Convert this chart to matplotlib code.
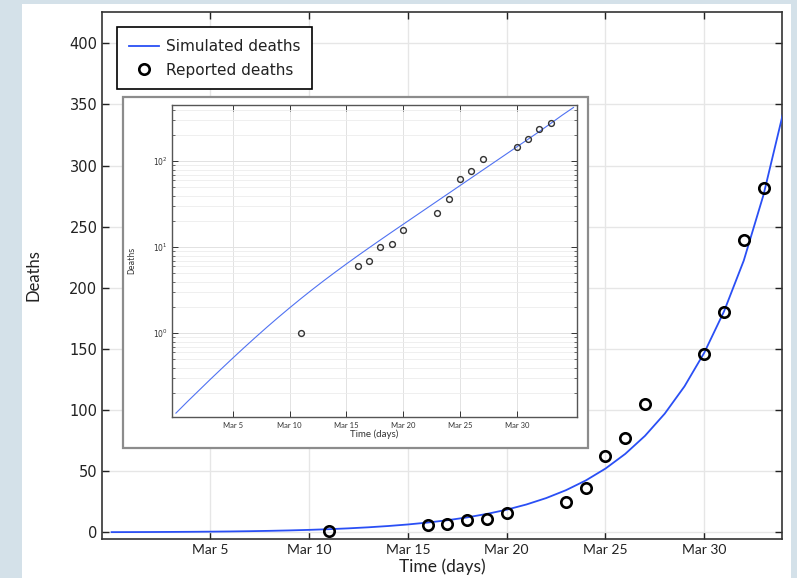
import numpy as np
import matplotlib
matplotlib.use('Agg')
import matplotlib.pyplot as plt
from matplotlib.patches import Rectangle
from matplotlib.ticker import LogLocator, NullFormatter

# ---------------- data (day index: Mar 1 = 0) ----------------
sim_days = list(range(-1, 35))
sim_deaths = [0.118, 0.160, 0.215, 0.289, 0.386, 0.514, 0.681, 0.897, 1.175, 1.528,
              1.972, 2.529, 3.221, 4.074, 5.117, 6.397, 7.962, 9.863, 12.19, 15.03,
              18.49, 22.75, 27.99, 34.43, 42.36, 52.12, 64.12, 78.89, 97.06, 119.4,
              146.9, 180.7, 222.3, 276.1, 343.6, 422.7]

obs_days = [10, 15, 16, 17, 18, 19, 22, 23, 24, 25, 26, 29, 30, 31, 32]
obs_deaths = [1, 6, 7, 10, 11, 16, 25, 36, 62, 77, 105, 146, 180, 239, 282]

tick_days = [4, 9, 14, 19, 24, 29]
tick_labels = ['Mar 5', 'Mar 10', 'Mar 15', 'Mar 20', 'Mar 25', 'Mar 30']
y_ticks = [0, 50, 100, 150, 200, 250, 300, 350, 400]

LINE_C = '#2a4ff5'
BG = '#d4e1e9'
W, H = 797, 578

fig = plt.figure(figsize=(W / 100, H / 100), dpi=100, facecolor=BG)

# white panel
fig.add_artist(Rectangle((22 / W, 0), (791 - 22) / W, (H - 4) / H,
                         transform=fig.transFigure, facecolor='white',
                         edgecolor='none', zorder=-10))

# ---------------- main axes ----------------
ax = fig.add_axes([102.3 / W, 1 - 539 / H, (781.7 - 102.3) / W, (539 - 11.7) / H])
ax.set_axisbelow(True)
ax.grid(True, color='#e6e6e6', lw=1.0)
ax.plot(sim_days, sim_deaths, color=LINE_C, lw=1.3, label='Simulated deaths', zorder=3)
ax.plot(obs_days, obs_deaths, linestyle='none', marker='o', ms=7.5, mfc='none',
        mec='black', mew=1.9, label='Reported deaths', zorder=4)
ax.set_xlim(-1.47, 32.92)
ax.set_ylim(-5.5, 425.9)
ax.set_xticks(tick_days)
ax.set_xticklabels(tick_labels, fontfamily='Lato', fontsize=10)
ax.set_yticks(y_ticks)
ax.tick_params(direction='in', top=True, right=True, length=5, width=1.0,
               color='#222222', labelcolor='#222222')
ax.tick_params(axis='y', labelsize=10.5)
for s in ax.spines.values():
    s.set_color('#333333')
    s.set_linewidth(1.2)
ax.set_xlabel('Time (days)', fontfamily='Lato', fontsize=12.5, color='#222222', labelpad=2)
ax.set_ylabel('Deaths', fontfamily='Lato', fontsize=12, color='#222222', labelpad=20)

leg = ax.legend(loc='upper left', bbox_to_anchor=(0.022, 0.9704), borderaxespad=0,
                fontsize=11, frameon=True, fancybox=False, framealpha=1,
                edgecolor='black', borderpad=0.76, labelspacing=0.57,
                handlelength=2.0, handletextpad=0.42)
leg.get_frame().set_linewidth(1.2)
for t in leg.get_texts():
    t.set_color('#222222')

# ---------------- inset ----------------
fig.add_artist(Rectangle((123 / W, 1 - 447.7 / H), (588.3 - 123) / W, (447.7 - 97.3) / H,
                         transform=fig.transFigure, facecolor='white',
                         edgecolor='#8c8c8c', lw=1.6, zorder=2))

axi = fig.add_axes([172.3 / W, 1 - 416.7 / H, (576.7 - 172.3) / W, (416.7 - 105) / H])
axi.set_zorder(3)
axi.set_yscale('log')
axi.set_axisbelow(True)
axi.plot(sim_days, sim_deaths, color='#5072f2', lw=0.8, zorder=3)
axi.plot(obs_days, obs_deaths, linestyle='none', marker='o', ms=4.2, mfc='none',
         mec='#333333', mew=1.0, zorder=4)
axi.set_xlim(-1.32, 34.28)
axi.set_ylim(0.1072, 451.5)
axi.set_xticks(tick_days)
axi.set_xticklabels(tick_labels, fontfamily='Lato', fontsize=5.5)
axi.yaxis.set_major_locator(LogLocator(base=10, numticks=10))
axi.yaxis.set_minor_locator(LogLocator(base=10, subs=np.arange(2, 10), numticks=20))
axi.yaxis.set_minor_formatter(NullFormatter())
axi.grid(True, which='major', color='#e2e2e2', lw=0.7)
axi.grid(True, which='minor', axis='y', color='#ececec', lw=0.6)
axi.tick_params(which='both', direction='in', top=True, right=True, color='#333333',
                labelcolor='#333333', labelsize=5.5)
axi.tick_params(which='major', length=4, width=0.7)
axi.tick_params(which='minor', length=2.5, width=0.5)
for s in axi.spines.values():
    s.set_color('#555555')
    s.set_linewidth(1.0)
axi.set_xlabel('Time (days)', fontfamily='Lato', fontsize=7, color='#333333', labelpad=1)
axi.set_ylabel('Deaths', fontsize=5.5, color='#333333', labelpad=12)

fig.savefig('out.png', dpi=100, facecolor=BG)
